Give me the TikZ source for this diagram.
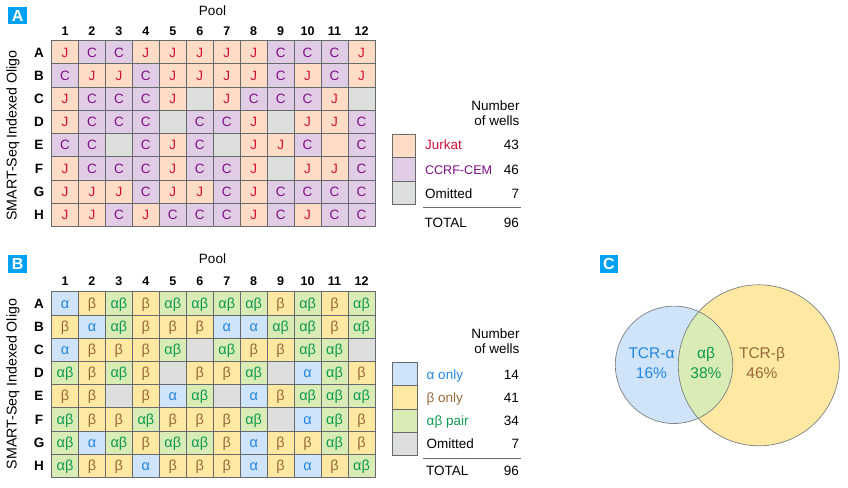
\documentclass[tikz,border=0pt]{standalone}
\usepackage{fontspec}
\setmainfont{Liberation Sans}
\usepackage{xcolor}
\usepackage{tikz}
\usetikzlibrary{calc,positioning}

\definecolor{peach}{HTML}{FFDCC5}
\definecolor{lilac}{HTML}{E1CCE6}
\definecolor{omit}{HTML}{DDDFDD}
\definecolor{skyfill}{HTML}{CFE4F8}
\definecolor{sandfill}{HTML}{FFE9A2}
\definecolor{leaf}{HTML}{D9ECB5}
\definecolor{jred}{HTML}{D0103A}
\definecolor{cpurple}{HTML}{7D0F85}
\definecolor{ablue}{HTML}{2385DE}
\definecolor{bbrown}{HTML}{96683A}
\definecolor{abgreen}{HTML}{0E9A50}
\definecolor{edgegray}{HTML}{666A6C}
\definecolor{tagblue}{HTML}{00A0F2}

\tikzset{
	plain/.style={inner sep=0pt,outer sep=0pt,font=\fontsize{13.5}{15}\selectfont},
	wellbox/.style={draw=edgegray,line width=0.8pt,inner sep=0pt,outer sep=0pt,minimum width=26.96pt,minimum height=23.2pt,text height=9.5pt,text depth=0pt,font=\fontsize{13.5}{15}\selectfont},
	wellJ/.style={wellbox,fill=peach,text=jred},
	wellK/.style={wellbox,fill=peach},
	wellC/.style={wellbox,fill=lilac,text=cpurple},
	wellO/.style={wellbox,fill=omit},
	wella/.style={wellbox,fill=skyfill,text=ablue,font=\fontsize{14.5}{15}\selectfont},
	wellb/.style={wellbox,fill=sandfill,text=bbrown,font=\fontsize{14.5}{15}\selectfont},
	wellab/.style={wellbox,fill=leaf,text=abgreen,font=\fontsize{14.5}{15}\selectfont},
	headtext/.style={plain,text height=9.5pt,text depth=0pt,font=\fontsize{12.5}{14}\selectfont\bfseries},
	lefttext/.style={plain,anchor=west,text height=9.5pt,text depth=0pt},
	righttext/.style={plain,anchor=east,text height=9.5pt,text depth=0pt},
	numtext/.style={plain,anchor=east,align=right},
	tagbox/.style={fill=tagblue,text=white,inner sep=0pt,outer sep=0pt,minimum width=18.5pt,minimum height=17.6pt,font=\fontsize{16}{18}\selectfont\bfseries},
	keybox/.style={draw=edgegray,line width=0.8pt,inner sep=0pt,outer sep=0pt,anchor=north west},
	venntext/.style={plain,align=center,font=\fontsize{15.5}{19.5}\selectfont},
}
% text of each well
\def\lblJ{J}
\def\lblK{}
\def\lblC{C}
\def\lblO{}
\def\lbla{α}
\def\lblb{β}
\def\lblab{αβ}

\begin{document}
\begin{tikzpicture}[x=1pt,y=-1pt]
	\useasboundingbox (0,0) rectangle (848,487);
	\def\cw{26.96}
	\def\ch{23.2}
	\def\xleft{51.5}
	% panel headings
	\foreach \panel/\top/\pooly/\heady/\oligoy in {A/40.7/10.7/30.5/135.5,B/291.7/259/280.7/384}{
		\node[plain] (pool\panel) at (212.5,\pooly) {Pool};
		\node[plain,rotate=90,font=\fontsize{14.2}{16}\selectfont] (oligo\panel) at (13,\oligoy) {SMART-Seq Indexed Oligo};
		\foreach \col in {1,...,12}
			\node[headtext] (col\panel\col) at ({\xleft+(\col-0.5)*\cw},\heady) {\col};
		\foreach \row [count=\r from 0] in {A,B,C,D,E,F,G,H}
			\node[headtext,font=\fontsize{13.5}{15}\selectfont\bfseries] (row\panel\row) at (39,{\top+(\r+0.5)*\ch}) {\row};
	}
	\node[tagbox] (tagA) at (17.6,15.5) {A};
	\node[tagbox] (tagB) at (17.6,263.8) {B};
	\node[tagbox] (tagC) at (609,264) {C};
	% wells of plate A
	\foreach \rowname/\cells [count=\r from 0] in {
		A/{J,C,C,J,J,J,J,J,C,C,C,J},
		B/{C,J,J,C,J,J,J,J,C,J,C,J},
		C/{J,C,C,C,J,O,J,C,C,C,J,O},
		D/{J,C,C,C,O,C,C,J,O,J,J,C},
		E/{C,C,O,C,J,C,O,J,J,C,K,C},
		F/{J,C,C,C,J,C,C,J,O,J,J,C},
		G/{J,J,J,C,J,J,C,J,C,C,C,C},
		H/{J,J,C,J,C,C,C,J,C,J,C,C}}{
		\foreach \code [count=\c from 0] in \cells
			\node[well\code] (wellA\rowname\c) at ({\xleft+(\c+0.5)*\cw},{40.7+(\r+0.5)*\ch}) {\csname lbl\code\endcsname};
	}
	% wells of plate B
	\foreach \rowname/\cells [count=\r from 0] in {
		A/{a,b,ab,b,ab,ab,ab,ab,b,ab,b,ab},
		B/{b,a,ab,b,b,b,a,a,ab,ab,b,ab},
		C/{a,b,b,b,ab,O,ab,b,b,ab,ab,O},
		D/{ab,b,ab,b,O,b,b,ab,O,a,ab,b},
		E/{b,b,O,b,a,ab,O,a,b,ab,ab,ab},
		F/{ab,b,b,ab,b,b,b,ab,O,a,ab,b},
		G/{ab,a,ab,b,ab,ab,b,a,b,b,ab,b},
		H/{ab,b,b,a,b,b,b,a,b,a,b,ab}}{
		\foreach \code [count=\c from 0] in \cells
			\node[well\code] (wellB\rowname\c) at ({\xleft+(\c+0.5)*\cw},{291.7+(\r+0.5)*\ch}) {\csname lbl\code\endcsname};
	}
	% key of plate A
	\foreach \name/\colr/\top in {J/peach/134.3,C/lilac/157.7,O/omit/181}
		\node[keybox,fill=\colr,minimum width=23.3pt,minimum height=23.3pt] (keyA\name) at (392.3,\top) {};
	\node[numtext] (numA) at (519.5,113.2) {Number\\of wells};
	\node[lefttext,text=jred] (txtAJ) at (425,145) {Jurkat};
	\node[lefttext,text=cpurple,font=\fontsize{12.6}{15}\selectfont] (txtAC) at (425,169.3) {CCRF-CEM};
	\node[lefttext] (txtAO) at (425,193.3) {Omitted};
	\node[lefttext] (txtAT) at (424.5,222.3) {TOTAL};
	\node[righttext] (cntAJ) at (519,145) {43};
	\node[righttext] (cntAC) at (519,169.3) {46};
	\node[righttext] (cntAO) at (519,193.3) {7};
	\node[righttext] (cntAT) at (519,222.3) {96};
	\coordinate (ruleAl) at (423,207.3);
	\coordinate (ruleAr) at (520.7,207.3);
	\draw[edgegray,line width=0.8pt] (ruleAl) -- (ruleAr);
	% key of plate B
	\foreach \name/\colr/\top in {a/skyfill/362.3,b/sandfill/385.6,ab/leaf/408.9,O/omit/432.2}
		\node[keybox,fill=\colr,minimum width=25.2pt,minimum height=23.3pt] (keyB\name) at (392.3,\top) {};
	\node[numtext] (numB) at (519.5,341.2) {Number\\of wells};
	\node[lefttext,text=ablue] (txtBa) at (426.7,374.3) {α only};
	\node[lefttext,text=bbrown] (txtBb) at (426.7,397.7) {β only};
	\node[lefttext,text=abgreen] (txtBab) at (426.7,421) {αβ pair};
	\node[lefttext] (txtBO) at (426.7,443.3) {Omitted};
	\node[lefttext] (txtBT) at (426.2,471) {TOTAL};
	\node[righttext] (cntBa) at (519,374.3) {14};
	\node[righttext] (cntBb) at (519,397.7) {41};
	\node[righttext] (cntBab) at (519,421) {34};
	\node[righttext] (cntBO) at (519,443.3) {7};
	\node[righttext] (cntBT) at (519,471) {96};
	\coordinate (ruleBl) at (423,458.7);
	\coordinate (ruleBr) at (520.7,458.7);
	\draw[edgegray,line width=0.8pt] (ruleBl) -- (ruleBr);
	% venn circles
	\coordinate (alphaC) at (674,364.8);
	\coordinate (betaC) at (758.8,365.3);
	\fill[skyfill] (alphaC) circle[radius=58.7];
	\fill[sandfill] (betaC) circle[radius=80.5];
	\begin{scope}
		\clip (alphaC) circle[radius=58.7];
		\fill[leaf] (betaC) circle[radius=80.5];
	\end{scope}
	\draw[edgegray!85,line width=0.7pt] (alphaC) circle[radius=58.7];
	\draw[edgegray!85,line width=0.7pt] (betaC) circle[radius=80.5];
	\node[venntext,text=ablue] (vennA) at (651.5,363) {TCR-α\\16\%};
	\node[venntext,text=abgreen] (vennAB) at (706,363) {αβ\\38\%};
	\node[venntext,text=bbrown] (vennB) at (762,363) {TCR-β\\46\%};
\end{tikzpicture}
\end{document}
